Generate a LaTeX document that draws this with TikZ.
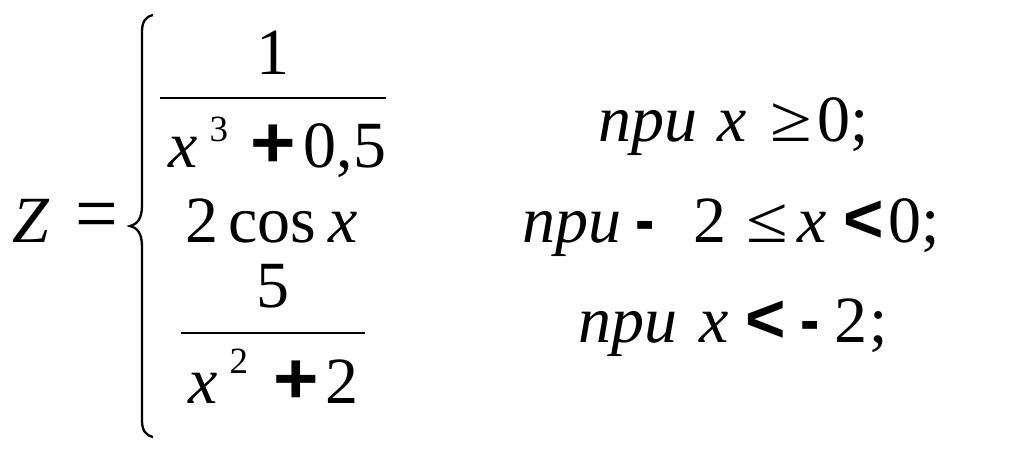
\documentclass[tikz,border=0pt]{standalone}
\usepackage{fontspec}
\usepackage{graphicx}
\setmainfont{Liberation Serif}
\setsansfont{Liberation Sans}
\newcommand\plus{\scalebox{1.18}[1.1]{\sffamily\bfseries +}}
\newcommand\less{\scalebox{1.05}{\sffamily\bfseries <}}
\newcommand\minus{\scalebox{0.88}[1]{\sffamily\bfseries -}}
\newcommand\pw[2]{\raisebox{#1}{\fontsize{18.5}{22}\selectfont #2}}

\begin{document}
\begin{tikzpicture}[x=0.5pt,y=-0.5pt,
    txt/.style={inner sep=0pt,anchor=base west,font=\fontsize{33}{40}\selectfont},
    ctr/.style={txt,anchor=base},
    bar/.style={line width=1.3pt}]
    \useasboundingbox (0,0) rectangle (1024,453);
    % Z =
    \node[txt] (lhs) at (12,243) {\textit{Z}\hspace{13pt}\scalebox{1.15}[1.3]{=}};

    % brace
    \draw[line width=1.15pt] (153,15) .. controls (145,17) and (142,22) .. (142,32)
        -- (142,205) .. controls (142,218) and (138,224) .. (130,226)
        .. controls (138,228) and (142,234) .. (142,247)
        -- (142,420) .. controls (142,430) and (145,435) .. (153,437);

    % first case
    \node[ctr] (num1) at (273,75) {1};
    \draw[bar] (160,98) -- (386,98);
    \node[txt] (den1) at (168,168) {\textit{x}\hspace{6pt}\pw{13pt}{3}\hspace{11pt}\plus\hspace{4pt}0,5};

    % second case
    \node[txt] (cos) at (185,243) {2\hspace{5pt}cos\hspace{6pt}\textit{x}};

    % third case
    \node[ctr] (num2) at (273,308) {5};
    \draw[bar] (181,333) -- (365,333);
    \node[txt] (den2) at (188,404) {\textit{x}\hspace{6pt}\pw{15pt}{2}\hspace{12.5pt}\plus\hspace{3.5pt}2};

    % conditions
    \node[txt] (cnd1) at (598,142) {\textit{при}\hspace{10pt}\textit{x}\hspace{12pt}\scalebox{1.15}[1]{≥}\hspace{2.5pt}0;};
    \node[txt] (cnd2) at (522,243) {\textit{при}\hspace{7pt}\minus\hspace{19.5pt}2\hspace{10pt}\scalebox{1.15}[1]{≤}\hspace{4.5pt}\textit{x}\hspace{8.5pt}\less\hspace{2pt}0;};
    \node[txt] (cnd3) at (578,343) {\textit{при}\hspace{11pt}\textit{x}\hspace{8.5pt}\less\hspace{7pt}\minus\hspace{7.5pt}2\hspace{1pt};};
\end{tikzpicture}
\end{document}
